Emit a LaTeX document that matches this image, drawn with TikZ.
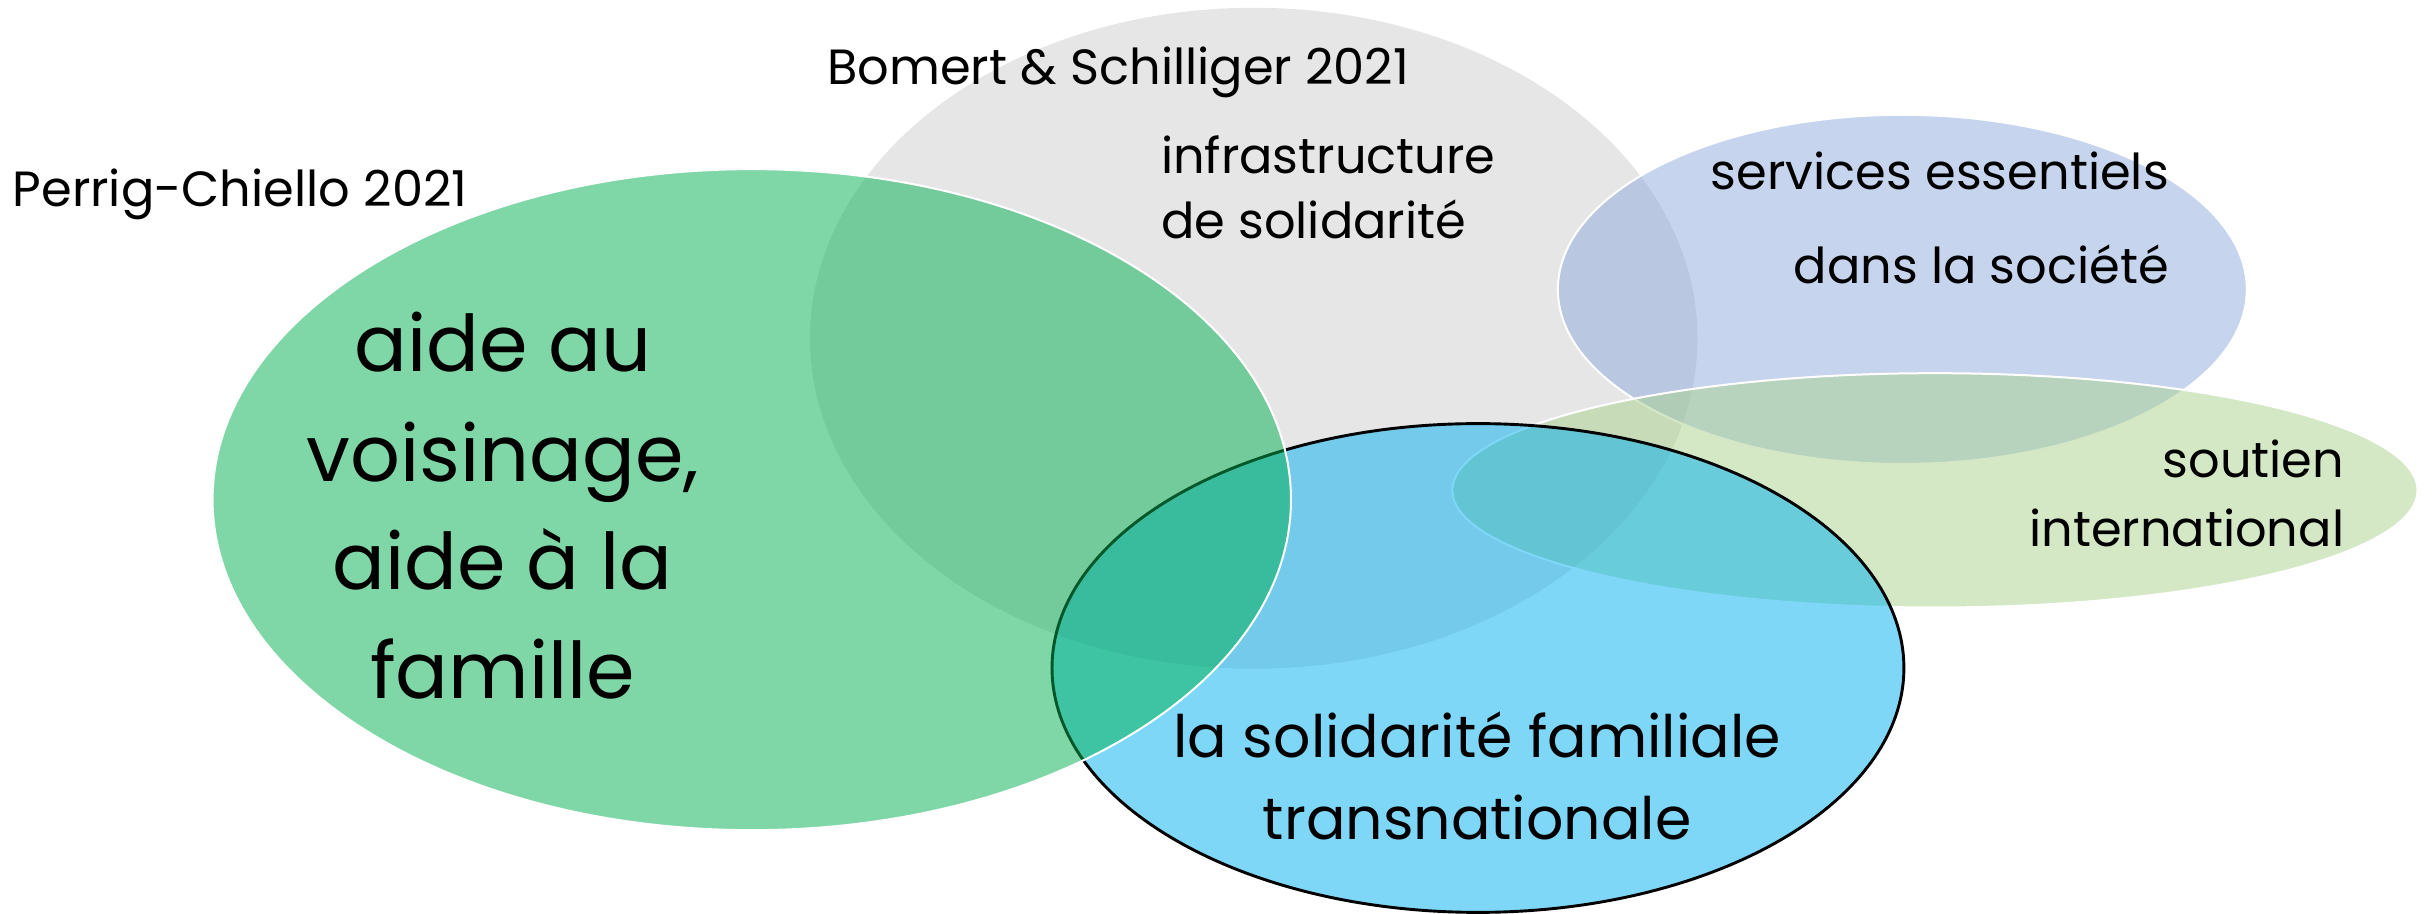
\documentclass[tikz,border=0pt]{standalone}
\usepackage{fontspec}
\setmainfont{Poppins}
\definecolor{grey}{HTML}{E7E6E6}
\definecolor{leaf}{HTML}{00B050}
\definecolor{serv}{HTML}{8FAADC}
\definecolor{sage}{HTML}{A9D18E}
\definecolor{sky}{HTML}{00B0F0}
\begin{document}
\begin{tikzpicture}[x=0.03cm,y=-0.03cm,tint/.style={fill=#1,fill opacity=0.5},rim/.style={draw=white,line width=1.1pt},small/.style={font=\fontsize{27.2}{33}\selectfont,inner sep=0pt},mid/.style={font=\fontsize{32.2}{40}\selectfont,inner sep=0pt,anchor=base},large/.style={font=\fontsize{43}{52}\selectfont,inner sep=0pt,anchor=base}]
\useasboundingbox (0,0) rectangle (1568,589);
\coordinate (bomert) at (808,218);
\coordinate (services) at (1226,186.5);
\coordinate (soutien) at (1247,316);
\coordinate (transnat) at (952.5,430.5);
\coordinate (perrig) at (484.5,322);
% ellipses, back to front
\fill[grey] (bomert) ellipse [x radius=286,y radius=213];
\fill[tint=serv] (services) ellipse [x radius=222,y radius=112.5];
\draw[rim] (services) ellipse [x radius=222,y radius=112.5];
\fill[tint=sage] (soutien) ellipse [x radius=311,y radius=75.5];
\draw[rim] (soutien) ellipse [x radius=311,y radius=75.5];
\fill[tint=sky] (transnat) ellipse [x radius=274.5,y radius=157.5];
\draw[line width=1.6pt] (transnat) ellipse [x radius=274.5,y radius=157.5];
\fill[tint=leaf] (perrig) ellipse [x radius=347.5,y radius=213];
\draw[rim] (perrig) ellipse [x radius=347.5,y radius=213];
% labels
\node[small,anchor=base west] (perrigtxt) at (8,133) {Perrig-Chiello 2021};
\node[small,anchor=base west] (bomerttxt) at (533,54.5) {Bomert \& Schilliger 2021};
\node[small,anchor=base west] (infra) at (748,112) {infrastructure};
\node[small,anchor=base west] (desol) at (748,154) {de solidarité};
\node[small,anchor=base east] (servess) at (1398,122) {services essentiels};
\node[small,anchor=base east] (dans) at (1398,183) {dans la société};
\node[small,anchor=base east] (sout) at (1511,308) {soutien};
\node[small,anchor=base east] (inter) at (1511,352) {international};
\node[large] (aide) at (324,239.5) {aide au};
\node[large] (voisin) at (324,310) {voisinage,};
\node[large] (aidea) at (324,380) {aide à la};
\node[large] (famille) at (324,450) {famille};
\node[mid] (lasol) at (952,488) {la solidarité familiale};
\node[mid] (trans) at (952,541) {transnationale};
\end{tikzpicture}
\end{document}
